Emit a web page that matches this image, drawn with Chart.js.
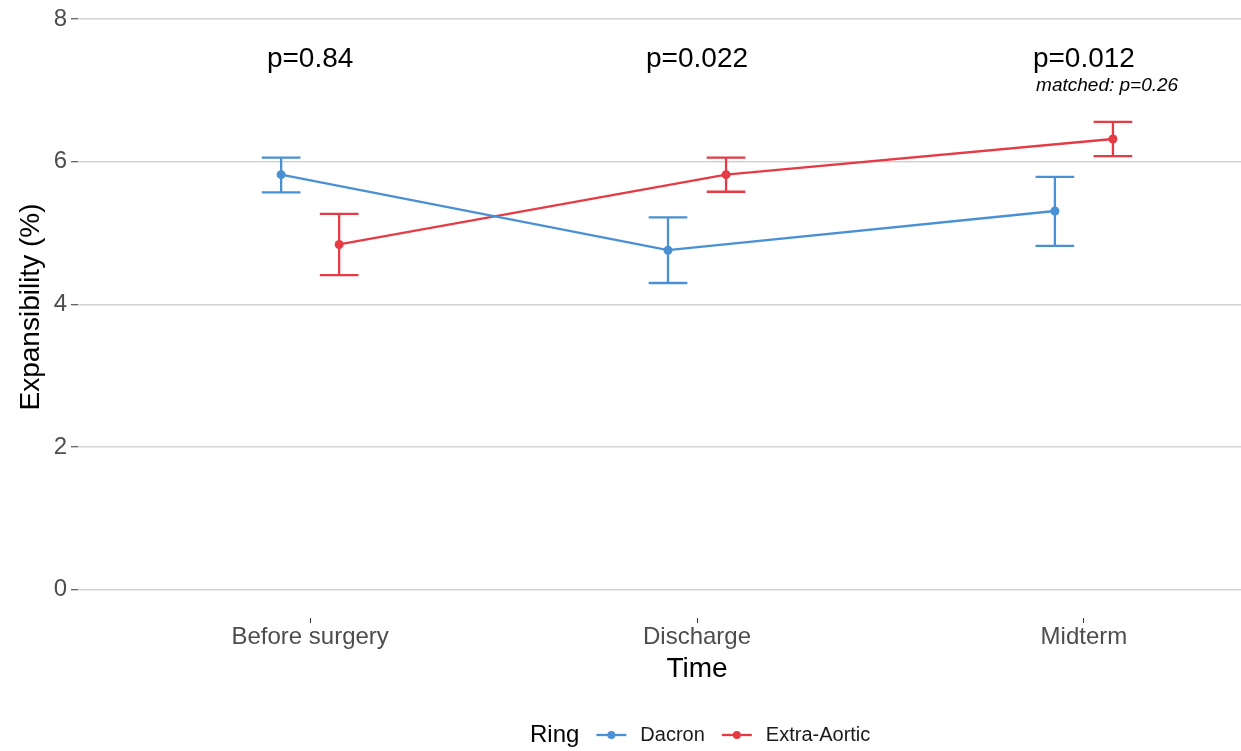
<!DOCTYPE html>
<html>
<head>
<meta charset="utf-8">
<script src="https://cdn.jsdelivr.net/npm/chart.js@4/dist/chart.umd.min.js"></script>
<style>
  html, body { margin: 0; padding: 0; background: #fff; overflow: hidden; }
  #wrap { width: 1241px; height: 751px; position: relative; }
</style>
</head>
<body>
<div id="wrap"><canvas id="expChart"></canvas></div>
<script>
// Expansibility by time point, mean with error bars, per ring type
const timepoints = ['Before surgery', 'Discharge', 'Midterm'];
const ringNames = ['Dacron', 'Extra-Aortic'];
const dacronMean = [5.82, 4.76, 5.31];
const dacronLow = [5.57, 4.30, 4.82];
const dacronHigh = [6.06, 5.22, 5.79];
const extraMean = [4.84, 5.82, 6.32];
const extraLow = [4.41, 5.58, 6.08];
const extraHigh = [5.27, 6.06, 6.56];
const pValues = ['p=0.84', 'p=0.022', 'p=0.012'];
const matchedNote = 'matched: p=0.26';
const yTicks = [0, 2, 4, 6, 8];

const FONT = '"Liberation Sans", Arial, Helvetica, sans-serif';
const BLUE = '#4A90D4';
const RED = '#E63B45';
const LINE_W = 2.3;
const DODGE = 0.075;   // half of the dodge width
const CAP = 0.05;      // half width of the error bar caps

function points(means, shift) {
    return means.map((v, i) => ({ x: i + 1 + shift, y: v }));
}

// error bars drawn under the lines and points
const errorBars = {
    id: 'errorBars',
    beforeDatasetsDraw(chart) {
        const ctx = chart.ctx;
        const xs = chart.scales.x, ys = chart.scales.y;
        const capPx = xs.getPixelForValue(CAP) - xs.getPixelForValue(0);
        chart.data.datasets.forEach(ds => {
            ctx.save();
            ctx.strokeStyle = ds.borderColor;
            ctx.lineWidth = LINE_W;
            ds.low.forEach((lo, i) => {
                const px = xs.getPixelForValue(ds.data[i].x);
                const yl = ys.getPixelForValue(lo);
                const yh = ys.getPixelForValue(ds.high[i]);
                ctx.beginPath();
                ctx.moveTo(px, yl); ctx.lineTo(px, yh);
                ctx.moveTo(px - capPx, yl); ctx.lineTo(px + capPx, yl);
                ctx.moveTo(px - capPx, yh); ctx.lineTo(px + capPx, yh);
                ctx.stroke();
            });
            ctx.restore();
        });
    }
};

// p-value annotations, axis titles and the legend
const annotations = {
    id: 'annotations',
    afterDraw(chart) {
        const ctx = chart.ctx;
        const xs = chart.scales.x, ys = chart.scales.y;
        ctx.save();
        ctx.fillStyle = '#000';
        ctx.textAlign = 'center';
        ctx.textBaseline = 'alphabetic';
        ctx.font = '28px ' + FONT;
        pValues.forEach((t, i) => {
            ctx.fillText(t, xs.getPixelForValue(i + 1), ys.getPixelForValue(7.33));
        });
        ctx.font = 'italic 19px ' + FONT;
        ctx.fillText(matchedNote, xs.getPixelForValue(3.06), ys.getPixelForValue(7.0));

        // axis titles
        ctx.font = '28px ' + FONT;
        ctx.fillText('Time', 697, 677);
        ctx.save();
        ctx.translate(38.5, 307);
        ctx.rotate(-Math.PI / 2);
        ctx.fillText('Expansibility (%)', 0, 0);
        ctx.restore();

        // legend
        const ly = 735;
        let lx = 530;
        ctx.textAlign = 'left';
        ctx.textBaseline = 'middle';
        ctx.font = '24px ' + FONT;
        ctx.fillText('Ring', lx, ly);
        lx += ctx.measureText('Ring').width + 17;
        ctx.font = '20px ' + FONT;
        chart.data.datasets.forEach(ds => {
            ctx.strokeStyle = ds.borderColor;
            ctx.fillStyle = ds.borderColor;
            ctx.lineWidth = LINE_W;
            ctx.beginPath();
            ctx.moveTo(lx, ly); ctx.lineTo(lx + 30, ly);
            ctx.stroke();
            ctx.beginPath();
            ctx.arc(lx + 15, ly, 4, 0, Math.PI * 2);
            ctx.fill();
            lx += 44;
            ctx.fillStyle = '#1a1a1a';
            ctx.fillText(ds.label, lx, ly);
            lx += ctx.measureText(ds.label).width + 17;
        });
        ctx.restore();
    }
};

new Chart(document.getElementById('expChart'), {
    type: 'line',
    data: {
        datasets: [
            {
                label: ringNames[0],
                data: points(dacronMean, -DODGE),
                low: dacronLow,
                high: dacronHigh,
                borderColor: BLUE,
                backgroundColor: BLUE,
                borderWidth: LINE_W,
                pointRadius: 4.5,
                pointBorderWidth: 0,
                tension: 0
            },
            {
                label: ringNames[1],
                data: points(extraMean, DODGE),
                low: extraLow,
                high: extraHigh,
                borderColor: RED,
                backgroundColor: RED,
                borderWidth: LINE_W,
                pointRadius: 4.5,
                pointBorderWidth: 0,
                tension: 0
            }
        ]
    },
    options: {
        responsive: true,
        maintainAspectRatio: false,
        animation: false,
        events: [],
        layout: { padding: 0, autoPadding: false },
        plugins: {
            legend: { display: false },
            tooltip: { enabled: false }
        },
        scales: {
            x: {
                type: 'linear',
                min: 0.4,
                max: 3.406,
                afterBuildTicks: s => { s.ticks = timepoints.map((_, i) => ({ value: i + 1 })); },
                afterFit: s => { s.height = 133; s.paddingLeft = 0; s.paddingRight = 0; },
                border: { display: false },
                grid: { drawOnChartArea: false, tickLength: 5, tickColor: '#333', tickWidth: 1 },
                ticks: {
                    padding: 0,
                    maxRotation: 0,
                    color: '#4d4d4d',
                    font: { size: 24, family: FONT },
                    callback: v => timepoints[v - 1]
                }
            },
            y: {
                min: -0.4,
                max: 8.27,
                afterBuildTicks: s => { s.ticks = yTicks.map(v => ({ value: v })); },
                afterFit: s => { s.width = 78; s.paddingTop = 0; s.paddingBottom = 0; },
                border: { display: false },
                grid: { color: '#d3d3d3', lineWidth: 1.5, tickLength: 7, tickColor: '#333', tickWidth: 1 },
                ticks: {
                    padding: 4,
                    color: '#4d4d4d',
                    font: { size: 24, family: FONT }
                }
            }
        }
    },
    plugins: [errorBars, annotations]
});
</script>
</body>
</html>
